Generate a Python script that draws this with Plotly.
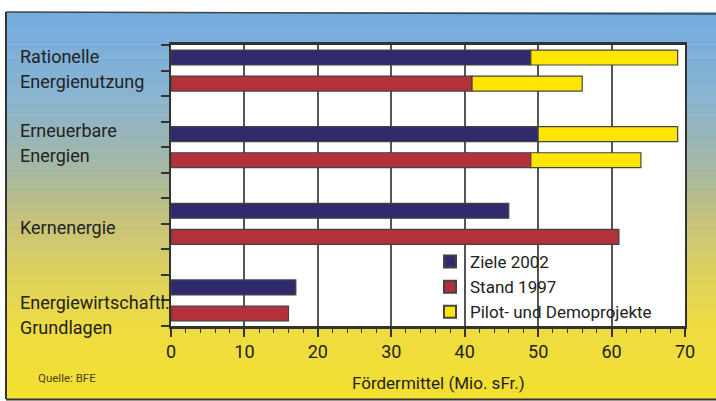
import plotly.graph_objects as go

# ---- data ----
categories = ["Rationelle<br>Energienutzung", "Erneuerbare<br>Energien", "Kernenergie",
              "Energiewirtschaftl.<br>Grundlagen"]
ziele_2002 = [49, 50, 46, 17]
stand_1997 = [41, 49, 61, 16]
pilot_on_ziele = [20, 19, None, None]
pilot_on_stand = [15, 15, None, None]
x_ticks = [0, 10, 20, 30, 40, 50, 60, 70]

W, H = 716, 401
L, R, T, B = 171, 685, 45, 326

def px_x(p):
    return (p - L) / (R - L)

def px_y(p):
    return (B - p) / (B - T)

NAVY = "#2f2a6b"
RED = "#b3313b"
YEL = "#ffe600"
EDGE = "#444444"
TXT = "#222222"
FONT = "Roboto"

pos = list(range(len(categories)))
bw = 0.195
off_z = -0.17 - bw / 2
off_s = 0.17 - bw / 2

fig = go.Figure()
fig.add_trace(go.Bar(name="Ziele 2002", y=pos, x=ziele_2002, orientation="h",
                     width=bw, offset=off_z, marker=dict(color=NAVY, line=dict(color=EDGE, width=1.2))))
fig.add_trace(go.Bar(name="Stand 1997", y=pos, x=stand_1997, orientation="h",
                     width=bw, offset=off_s, marker=dict(color=RED, line=dict(color=EDGE, width=1.2))))
fig.add_trace(go.Bar(name="Pilot- und Demoprojekte", y=pos, x=pilot_on_ziele, base=ziele_2002,
                     orientation="h", width=bw, offset=off_z, legendgroup="p",
                     marker=dict(color=YEL, line=dict(color=EDGE, width=1.2))))
fig.add_trace(go.Bar(name="Pilot- und Demoprojekte", y=pos, x=pilot_on_stand, base=stand_1997,
                     orientation="h", width=bw, offset=off_s, legendgroup="p", showlegend=False,
                     marker=dict(color=YEL, line=dict(color=EDGE, width=1.2))))

# background gradient (blue top -> yellow bottom)
stops = [(12, (116, 172, 224)), (100, (138, 180, 208)), (170, (166, 184, 162)),
         (220, (198, 194, 124)), (270, (220, 208, 96)), (330, (238, 220, 64)), (399, (244, 224, 48))]
shapes = []
n = 60
y0p, y1p = 12, 399
for i in range(n):
    a = y0p + (y1p - y0p) * i / n
    b = y0p + (y1p - y0p) * (i + 1) / n
    m = (a + b) / 2
    for j in range(len(stops) - 1):
        if stops[j][0] <= m <= stops[j + 1][0]:
            t = (m - stops[j][0]) / (stops[j + 1][0] - stops[j][0])
            c = [round(stops[j][1][k] + t * (stops[j + 1][1][k] - stops[j][1][k])) for k in range(3)]
            break
    shapes.append(dict(type="rect", xref="paper", yref="paper", layer="below",
                       x0=px_x(7), x1=px_x(W + 2), y0=px_y(b + 0.5), y1=px_y(a),
                       fillcolor=f"rgb({c[0]},{c[1]},{c[2]})", line=dict(width=0)))
# white plot area over gradient
shapes.append(dict(type="rect", xref="paper", yref="paper", layer="below",
                   x0=0, x1=1, y0=0, y1=1, fillcolor="white", line=dict(width=0)))
# scan frame lines
shapes.append(dict(type="line", xref="paper", yref="paper", x0=px_x(6), x1=px_x(6),
                   y0=px_y(12), y1=px_y(399), line=dict(color="#333", width=2)))
shapes.append(dict(type="line", xref="paper", yref="paper", x0=px_x(6), x1=px_x(W + 2),
                   y0=px_y(12), y1=px_y(14), line=dict(color="#444", width=1.5)))
shapes.append(dict(type="line", xref="paper", yref="paper", x0=px_x(6), x1=px_x(W + 2),
                   y0=px_y(399.5), y1=px_y(399.5), line=dict(color="#333", width=2)))

# category labels
label_shift = [2, 4, -4, -15]
annotations = []
for i, lab in enumerate(categories):
    lines = lab.split("<br>")
    nl = len(lines)
    for k, ln in enumerate(lines):
        dy = (k - (nl - 1) / 2) * 25
        annotations.append(dict(text=ln, xref="paper", yref="y", x=px_x(18), y=pos[i],
                                xanchor="left", yanchor="middle", showarrow=False,
                                yshift=label_shift[i] - dy,
                                font=dict(family=FONT, size=18, color=TXT)))
annotations.append(dict(text="Quelle: BFE", xref="paper", yref="paper", x=px_x(36), y=px_y(378),
                        xanchor="left", yanchor="middle", showarrow=False,
                        font=dict(family=FONT, size=11.5, color="#4a4220")))
annotations.append(dict(text="Fördermittel (Mio. sFr.)", xref="paper", yref="paper",
                        x=px_x(438), y=px_y(383), xanchor="center", yanchor="middle",
                        showarrow=False, font=dict(family=FONT, size=17, color=TXT)))

fig.update_layout(
    width=W, height=H, margin=dict(l=L, r=W - R, t=T, b=H - B),
    paper_bgcolor="white", plot_bgcolor="white",
    barmode="overlay", shapes=shapes, annotations=annotations,
    font=dict(family=FONT, color=TXT),
    legend=dict(x=px_x(430), y=px_y(244), xanchor="left", yanchor="top",
                bgcolor="rgba(0,0,0,0)", font=dict(family=FONT, size=17, color=TXT),
                tracegroupgap=0, itemsizing="constant"),
    xaxis=dict(range=[0, 70], tickvals=x_ticks, showgrid=True, gridcolor="#555555", gridwidth=1.5,
               ticks="outside", ticklen=8, tickwidth=1.5, tickcolor="#333",
               minor=dict(dtick=2, ticks="outside", ticklen=4, tickwidth=1.2, tickcolor="#333",
                          showgrid=False),
               showline=True, linecolor="#333", linewidth=2.5, mirror=True, zeroline=False,
               tickfont=dict(family=FONT, size=18, color=TXT)),
    yaxis=dict(range=[10 / 3, -1 / 3], tickvals=[k / 3 for k in range(-1, 11)], showticklabels=False,
               ticks="outside", ticklen=8, tickwidth=1.5, tickcolor="#333", showgrid=False,
               zeroline=False, showline=True, linecolor="#333", linewidth=2, mirror=True),
)

fig.write_html("out.html", config={"displayModeBar": False},
               post_script="document.body.style.margin='0';document.body.style.overflow='hidden';")
